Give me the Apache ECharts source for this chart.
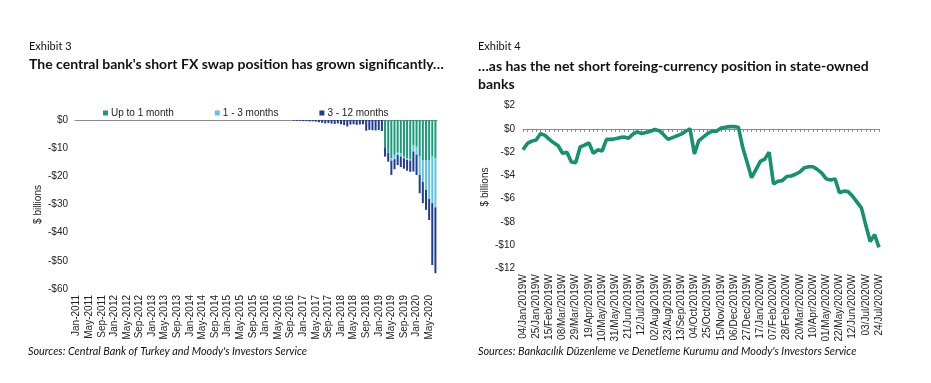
<!DOCTYPE html>
<html><head><meta charset="utf-8">
<script src="https://cdn.jsdelivr.net/npm/echarts@6/dist/echarts.min.js"></script>
<style>html,body{margin:0;padding:0;background:#fff}#c{width:931px;height:383px}</style>
</head><body><div id="c"></div>
<script>
// ---------- Exhibit 3 data (monthly, Jan-2011 .. Jul-2020), $ billions ----------
const upTo1Month = [
  0,0,0,0,0,0,0,0,0,0,0,0,            // 2011
  0,0,0,0,0,0,0,0,0,0,0,0,            // 2012
  0,0,0,0,0,0,0,0,0,0,0,0,            // 2013
  0,0,0,0,0,0,0,0,0,0,0,0,            // 2014
  0,0,0,0,0,0,0,0,0,0,0,0,            // 2015
  0,0,0,0,0,0,0,0,0,0,0,0,            // 2016
  0,0,0,0,0,0,0,0,0,0,0,0,            // 2017
  0,0,0,0,0,0,0,0,0,0,0,0,            // 2018
  0,0,-9.7,-11.6,-13.6,-12.4,-11.6,-11.8,-13.0,-13.6,-14.0,-8.9, // 2019
  -9.5,-13.0,-14.2,-14.2,-14.2,-13.0,-13.6                     // 2020
];
const oneTo3Months = [
  0,0,0,0,0,0,0,0,0,0,0,0,
  0,0,0,0,0,0,0,0,0,0,0,0,
  0,0,0,0,0,0,0,0,0,0,0,0,
  0,0,0,0,0,0,0,0,0,0,0,0,
  0,0,0,0,0,0,0,0,0,0,0,0,
  0,0,0,0,0,0,0,0,0,0,0,0,
  0,0,0,0,0,0,0,0,0,0,0,0,
  0,0,0,0,0,0,0,0,0,0,0,0,
  0,0,0,0,-0.8,-1.5,-0.8,-1.2,-0.6,-0.6,-0.4,-2.3,
  -2.8,-6.5,-7.8,-10.6,-13.8,-16.5,-17.4
];
const threeTo12Months = [
  0,0,0,0,0,0,0,0,0,0,0,0,
  0,0,0,0,0,0,0,0,0,0,0,0,
  0,0,0,0,0,0,0,0,0,0,0,0,
  0,0,0,0,0,0,0,0,0,0,0,0,
  0,0,0,0,0,0,0,0,0,0,0,0,
  0,0,0,0,0,0,0,0,0,-0.2,-0.3,-0.3,
  -0.4,-0.4,-0.5,-0.5,-0.6,-0.8,-1.0,-1.2,-1.1,-1.3,-1.4,-1.2,
  -1.5,-1.8,-2.3,-1.6,-1.5,-1.7,-1.6,-1.5,-3.8,-3.5,-3.6,-3.7,
  -3.6,-3.9,-3.3,-3.2,-5.1,-3.6,-3.6,-3.7,-3.7,-3.8,-4.0,-7.1,
  -7.2,-6.5,-7.5,-7.1,-7.5,-22.0,-23.4
];
const seriesNames3 = ['Up to 1 month','1 - 3 months','3 - 12 months'];
const monthNames = ['Jan','Feb','Mar','Apr','May','Jun','Jul','Aug','Sep','Oct','Nov','Dec'];
const monthCats = [];
for (let y = 2011; y <= 2020; y++) for (let m = 0; m < 12; m++) {
  if (monthCats.length < upTo1Month.length) monthCats.push(monthNames[m] + '-' + y);
}

// ---------- Exhibit 4 data (weekly, 04/Jan/2019 .. 24/Jul/2020), $ billions ----------
const netShortPosition = [
  -1.8,-1.25,-1.05,-0.95,-0.4,-0.55,-0.9,-1.2,-1.45,-2.1,
  -2.0,-2.85,-2.9,-1.55,-1.4,-1.2,-2.1,-1.8,-1.9,-0.9,
  -0.9,-0.85,-0.75,-0.7,-0.8,-0.45,-0.25,-0.4,-0.3,-0.2,
  -0.05,-0.15,-0.5,-0.9,-0.75,-0.6,-0.45,-0.2,0,-2.15,
  -1.0,-0.7,-0.4,-0.2,-0.2,0.05,0.15,0.2,0.2,0.15,
  -1.6,-2.9,-4.2,-3.5,-2.8,-2.6,-2.0,-4.75,-4.5,-4.45,
  -4.1,-4.05,-3.9,-3.7,-3.35,-3.25,-3.25,-3.5,-3.8,-4.3,
  -4.4,-4.3,-5.5,-5.35,-5.4,-5.8,-6.3,-6.8,-8.3,-9.7,
  -9.1,-10.2
];
const weekCats = [];
const t0 = Date.UTC(2019, 0, 4);
for (let i = 0; i < netShortPosition.length; i++) {
  const d = new Date(t0 + i * 7 * 86400000);
  const dd = String(d.getUTCDate()).padStart(2, '0');
  weekCats.push(dd + '/' + monthNames[d.getUTCMonth()] + '/' + d.getUTCFullYear() + 'W');
}

const C_GREEN = '#1a9b7a', C_LBLUE = '#5ec3e8', C_DBLUE = '#1f3b98', C_LINE = '#16916e';
const TXT = '#222';
const money = v => (v < 0 ? '-$' : '$') + Math.abs(v);
const lblFont = {fontFamily: 'Liberation Sans, Arial, sans-serif', fontSize: 10, color: TXT};
const headFont = 'Lato, sans-serif';

const chart = echarts.init(document.getElementById('c'), null, {renderer: 'canvas'});
chart.setOption({
  animation: false,
  backgroundColor: '#fff',
  grid: [
    {left: 75, top: 120, width: 362, height: 169},
    {left: 523, top: 105.7, width: 356, height: 162.6}
  ],
  legend: {
    data: seriesNames3, left: 98, top: 103, icon: 'rect', itemWidth: 5, itemHeight: 5,
    itemGap: 41, textStyle: Object.assign({padding: [0, 0, 0, -2]}, lblFont)
  },
  xAxis: [
    {type: 'category', gridIndex: 0, data: monthCats, position: 'bottom',
     axisLine: {show: false, onZero: false}, axisTick: {show: false},
     axisLabel: Object.assign({rotate: 90, interval: 3, margin: 6}, lblFont)},
    {type: 'category', gridIndex: 0, data: monthCats, position: 'bottom',
     axisLine: {show: true, onZero: true, lineStyle: {color: '#8a8a8a', width: 1}},
     axisTick: {show: false}, axisLabel: {show: false}},
    {type: 'category', gridIndex: 1, data: weekCats, position: 'bottom', boundaryGap: false,
     axisLine: {show: false, onZero: false}, axisTick: {show: false},
     axisLabel: Object.assign({rotate: 90, interval: 2, margin: 6}, lblFont)},
    {type: 'category', gridIndex: 1, data: weekCats, position: 'bottom', boundaryGap: false,
     axisLine: {show: true, onZero: true, lineStyle: {color: '#8a8a8a', width: 1}},
     axisTick: {show: true, interval: 0, length: 3, lineStyle: {color: '#8a8a8a'}},
     axisLabel: {show: false}}
  ],
  yAxis: [
    {type: 'value', gridIndex: 0, min: -60, max: 0, interval: 10,
     name: '$ billions', nameLocation: 'middle', nameGap: 32, nameRotate: 90,
     nameTextStyle: lblFont,
     axisLine: {show: false}, axisTick: {show: false}, splitLine: {show: false},
     axisLabel: Object.assign({formatter: money, margin: 7}, lblFont)},
    {type: 'value', gridIndex: 1, min: -12, max: 2, interval: 2,
     name: '$ billions', nameLocation: 'middle', nameGap: 33, nameRotate: 90,
     nameTextStyle: lblFont,
     axisLine: {show: false}, axisTick: {show: false}, splitLine: {show: false},
     axisLabel: Object.assign({formatter: money, margin: 8}, lblFont)}
  ],
  series: [
    {name: seriesNames3[0], type: 'bar', stack: 'fx', xAxisIndex: 0, yAxisIndex: 0,
     data: upTo1Month, barWidth: 2, itemStyle: {color: C_GREEN}},
    {name: seriesNames3[1], type: 'bar', stack: 'fx', xAxisIndex: 0, yAxisIndex: 0,
     data: oneTo3Months, barWidth: 2, itemStyle: {color: C_LBLUE}},
    {name: seriesNames3[2], type: 'bar', stack: 'fx', xAxisIndex: 0, yAxisIndex: 0,
     data: threeTo12Months, barWidth: 2, itemStyle: {color: C_DBLUE}},
    {name: 'Net short FX position', type: 'line', xAxisIndex: 2, yAxisIndex: 1,
     data: netShortPosition, symbol: 'none', lineStyle: {color: C_LINE, width: 3.6},
     itemStyle: {color: C_LINE}}
  ],
  graphic: [
    {type: 'text', left: 29, top: 41, style: {text: 'Exhibit 3', font: '11px ' + headFont, fill: '#111'}},
    {type: 'text', left: 29, top: 57, style: {text: "The central bank's short FX swap position has grown significantly…", font: 'bold 14px ' + headFont, fill: '#111'}},
    {type: 'text', left: 478, top: 41, style: {text: 'Exhibit 4', font: '11px ' + headFont, fill: '#111'}},
    {type: 'text', left: 478, top: 57, style: {text: '…as has the net short foreing-currency position in state-owned\nbanks', font: 'bold 14px ' + headFont, fill: '#111', lineHeight: 18}},
    {type: 'text', left: 28, top: 346, style: {text: "Sources: Central Bank of Turkey and Moody's Investors Service", font: 'italic 10.85px ' + headFont, fill: '#111'}},
    {type: 'text', left: 478, top: 346, style: {text: "Sources: Bankacılık Düzenleme ve Denetleme Kurumu and Moody's Investors Service", font: 'italic 10.85px ' + headFont, fill: '#111'}}
  ]
});
</script></body></html>
